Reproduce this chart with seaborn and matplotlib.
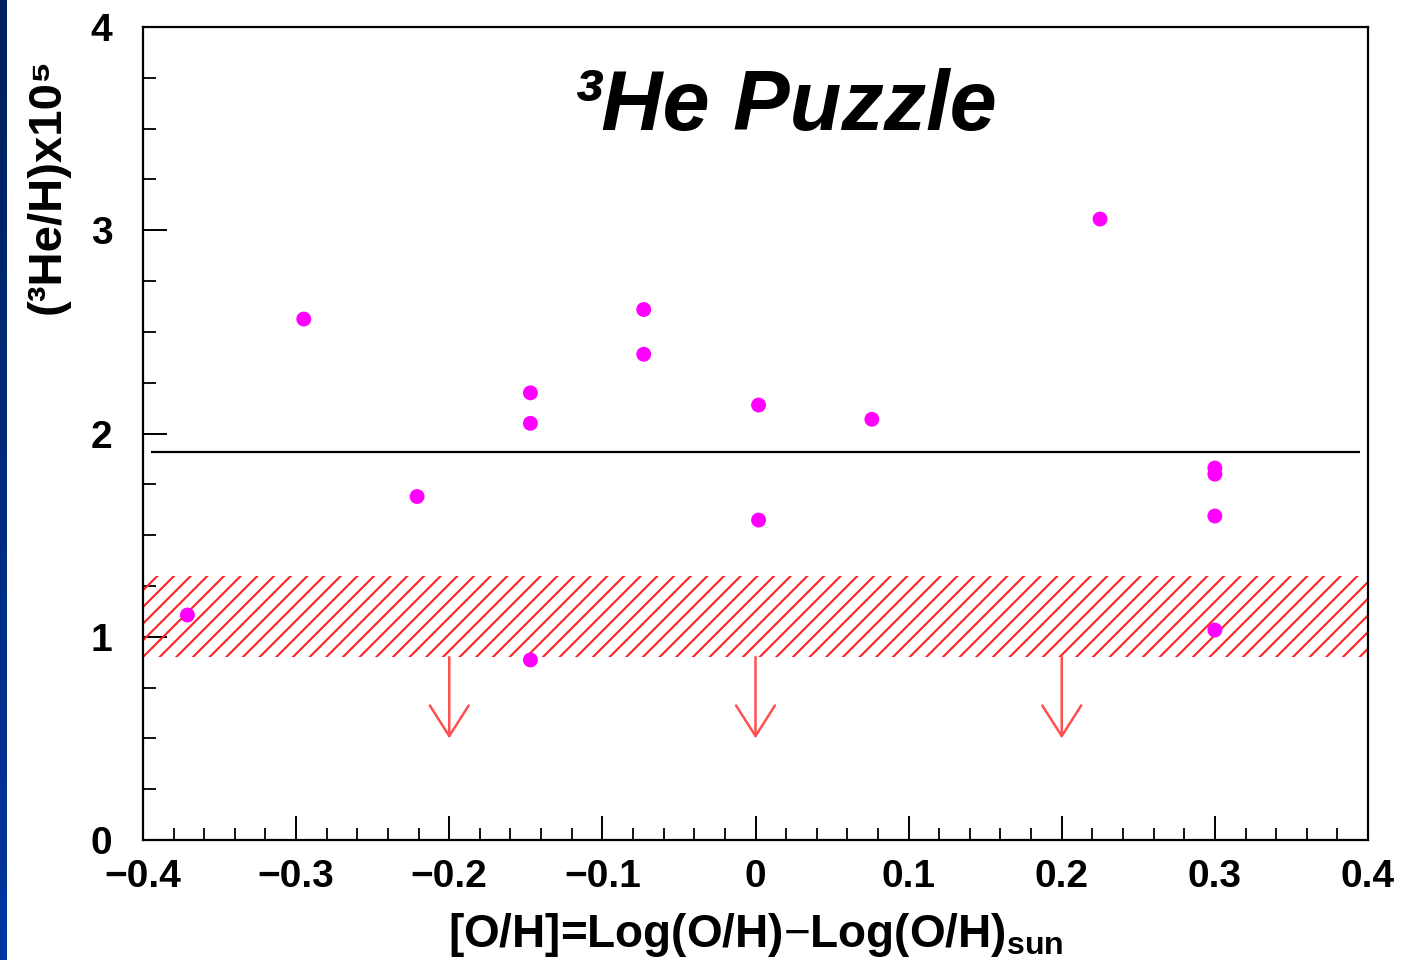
import numpy as np
import pandas as pd
import matplotlib
matplotlib.use("Agg")
import matplotlib.pyplot as plt
from matplotlib.ticker import MultipleLocator, FixedFormatter, FixedLocator
from matplotlib.colors import LinearSegmentedColormap
import seaborn as sns

# ---- data ----
oh = [-0.371, -0.295, -0.221, -0.147, -0.147, -0.147, -0.073, -0.073,
      0.002, 0.002, 0.076, 0.225, 0.300, 0.300, 0.300, 0.300]
he3 = [1.107, 2.563, 1.69, 2.20, 2.05, 0.886, 2.61, 2.39,
       2.14, 1.574, 2.07, 3.055, 1.83, 1.80, 1.594, 1.033]
mean_level = 1.91
band_low, band_high = 0.90, 1.30
limit_x = [-0.2, 0.0, 0.2]
limit_top = 0.90
limit_tip = 0.50
xticks = [-0.4, -0.3, -0.2, -0.1, 0.0, 0.1, 0.2, 0.3, 0.4]
xticklabels = ["\u22120.4", "\u22120.3", "\u22120.2", "\u22120.1", "0", "0.1", "0.2", "0.3", "0.4"]
yticks = [0, 1, 2, 3, 4]
yticklabels = ["0", "1", "2", "3", "4"]

df = pd.DataFrame({"oh": oh, "he3": he3})

sns.set_theme(style="white")
plt.rcParams["font.family"] = ["Liberation Sans", "DejaVu Sans"]
plt.rcParams["mathtext.fontset"] = "custom"
plt.rcParams["mathtext.rm"] = "Liberation Sans"
plt.rcParams["mathtext.bf"] = "Liberation Sans:bold"
plt.rcParams["hatch.linewidth"] = 1.5

fig = plt.figure(figsize=(14.04, 9.60), dpi=100)
fig.patch.set_facecolor("white")

# left blue strip
strip = fig.add_axes([0, 0, 7 / 1404, 1])
grad = np.linspace(0, 1, 256).reshape(-1, 1)
cm = LinearSegmentedColormap.from_list("strip", ["#00205a", "#0035a0"])
strip.imshow(grad, aspect="auto", cmap=cm, extent=[0, 1, 0, 1], origin="upper")
strip.axis("off")

ax = fig.add_axes([143 / 1404, 120 / 960, 1225 / 1404, 813 / 960])
ax.set_xlim(-0.4, 0.4)
ax.set_ylim(0, 4)

# hatched band
ax.fill_between([-0.4, 0.4], band_low, band_high, facecolor="none",
                edgecolor="#ff2020", linewidth=0, hatch="//", zorder=1)

# mean line
ax.hlines(mean_level, -0.395, 0.395, color="black", lw=1.6, zorder=2)

# upper-limit arrows
for xa in limit_x:
    ax.annotate("", xy=(xa, limit_tip), xytext=(xa, limit_top),
                arrowprops=dict(arrowstyle="->,head_length=1.1,head_width=0.7",
                                color="#ff5050", lw=1.8, mutation_scale=20,
                                shrinkA=0, shrinkB=0), zorder=3)

sns.scatterplot(data=df, x="oh", y="he3", ax=ax, color="#ff00ff", s=115,
                edgecolor="none", zorder=4, legend=False)

# axes styling
for sp in ax.spines.values():
    sp.set_visible(True)
    sp.set_color("black")
    sp.set_linewidth(1.6)

ax.xaxis.set_major_locator(FixedLocator(xticks))
ax.xaxis.set_major_formatter(FixedFormatter(xticklabels))
ax.xaxis.set_minor_locator(MultipleLocator(0.02))
ax.yaxis.set_major_locator(FixedLocator(yticks))
ax.yaxis.set_major_formatter(FixedFormatter(yticklabels))
ax.yaxis.set_minor_locator(MultipleLocator(0.25))

ax.tick_params(axis="both", which="both", direction="in", colors="black",
               top=False, right=False, bottom=True, left=True)
ax.tick_params(axis="both", which="major", length=17, width=1.4, labelsize=28)
ax.tick_params(axis="both", which="minor", length=9, width=1.3)
ax.tick_params(axis="x", which="major", pad=14)
ax.tick_params(axis="y", which="major", pad=22)
for lab in ax.get_xticklabels() + ax.get_yticklabels():
    lab.set_fontweight("bold")

ax.set_xlabel(r"[O/H]=Log(O/H)$-$Log(O/H)$_{\mathbf{sun}}$", fontsize=33,
              fontweight="bold", color="black")
ax.xaxis.set_label_coords(0.5, -0.087)
ax.set_ylabel("(\u00b3He/H)x10\u2075", fontsize=34, fontweight="bold", color="black")
ax.yaxis.set_label_coords(-0.06, 0.805)

ax.text(0.524, 0.9, "\u00b3He Puzzle", transform=ax.transAxes,
        ha="center", va="center", fontsize=61, fontweight="bold",
        fontstyle="italic", color="black")

fig.savefig("out.png", dpi=100)
